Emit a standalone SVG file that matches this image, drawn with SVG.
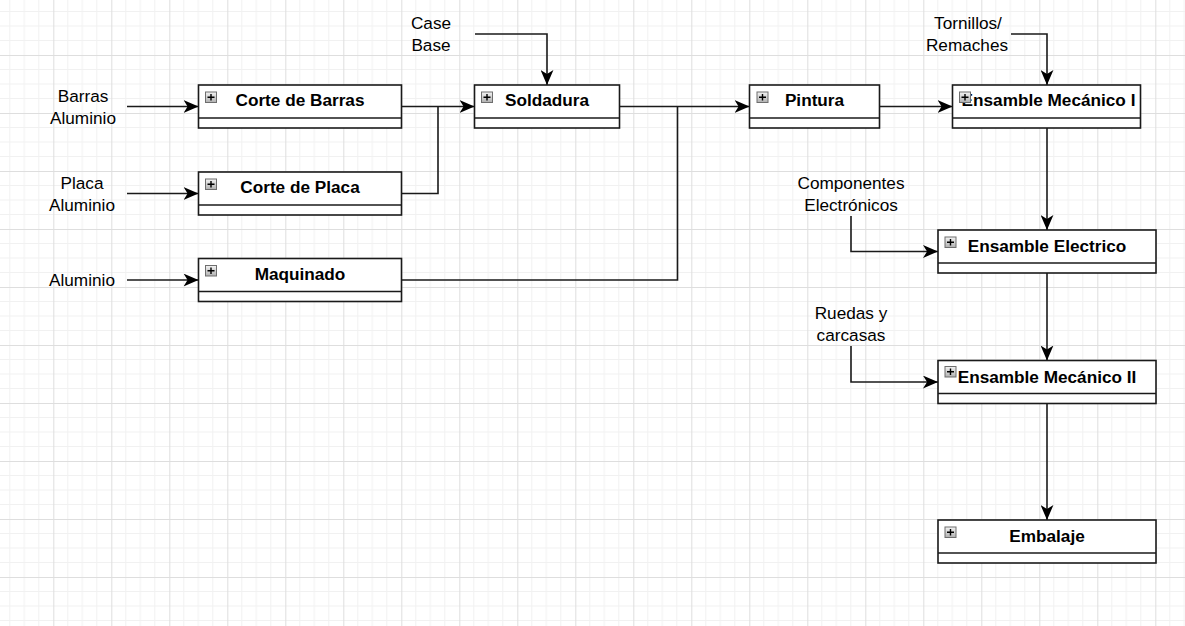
<svg xmlns="http://www.w3.org/2000/svg" width="1185" height="626" viewBox="0 0 1185 626">
<style>
.box{fill:#ffffff;stroke:#1a1a1a;stroke-width:1.6}
.div{stroke:#1a1a1a;stroke-width:1.6;fill:none}
.ttl{font-family:"Liberation Sans",Arial,sans-serif;font-size:17.2px;font-weight:bold;fill:#000;text-anchor:middle}
.lbl{font-family:"Liberation Sans",Arial,sans-serif;font-size:17.2px;fill:#000;text-anchor:middle}
.edge{fill:none;stroke:#1a1a1a;stroke-width:1.6}
.arr{marker-end:url(#ah)}
.ic{fill:url(#ig);stroke:#6e6e6e;stroke-width:1}
.pl{stroke:#000;stroke-width:1.4}
</style>
<defs>
<pattern id="grid" patternUnits="userSpaceOnUse" x="-4.7" y="-3" width="58" height="58">
<path d="M14.5 0V58M29 0V58M43.5 0V58M0 14.5H58M0 29H58M0 43.5H58" stroke="#f1f1f1" stroke-width="1" fill="none"/>
<path d="M0.5 0V58M0 0.5H58" stroke="#dedede" stroke-width="1" fill="none"/>
</pattern>
<linearGradient id="ig" x1="0" y1="0" x2="0" y2="1">
<stop offset="0" stop-color="#f4f4f4"/>
<stop offset="1" stop-color="#b0b0b0"/>
</linearGradient>
<marker id="ah" markerUnits="userSpaceOnUse" markerWidth="15" markerHeight="13" viewBox="0 0 14 12" refX="14" refY="6" orient="auto">
<path d="M0,0 L14,6 L0,12 L3.8,6 Z" fill="#000"/>
</marker>
</defs>
<rect width="1185" height="626" fill="#ffffff"/>
<rect width="1185" height="626" fill="url(#grid)"/>

<g id="connectors">
<path class="edge arr" d="M127,106.5H198.5"/>
<path class="edge arr" d="M127,193.5H198.5"/>
<path class="edge arr" d="M127,280H198.5"/>
<path class="edge arr" d="M401.5,106.5H474.5"/>
<path class="edge" d="M401.5,193.5H438V106.5"/>
<path class="edge arr" d="M475,34H547V85"/>
<path class="edge arr" d="M619.5,106.5H749.5"/>
<path class="edge" d="M401.5,280H677.5V106.5"/>
<path class="edge arr" d="M879.5,106.5H952.5"/>
<path class="edge arr" d="M1011,34H1047V85"/>
<path class="edge arr" d="M1047,128V230"/>
<path class="edge arr" d="M851,216V251.5H938"/>
<path class="edge arr" d="M1047,273V360.5"/>
<path class="edge arr" d="M851,346V382H938"/>
<path class="edge arr" d="M1047,403.5V520"/>
</g>

<g id="labels">
<text class="lbl" x="83" y="102">Barras</text>
<text class="lbl" x="83" y="124">Aluminio</text>
<text class="lbl" x="82" y="189">Placa</text>
<text class="lbl" x="82" y="211">Aluminio</text>
<text class="lbl" x="82" y="286">Aluminio</text>
<text class="lbl" x="431" y="28.5">Case</text>
<text class="lbl" x="431" y="50.5">Base</text>
<text class="lbl" x="968" y="28.5">Tornillos/</text>
<text class="lbl" x="967" y="50.5">Remaches</text>
<text class="lbl" x="851" y="189">Componentes</text>
<text class="lbl" x="851" y="211">Electrónicos</text>
<text class="lbl" x="851" y="319">Ruedas y</text>
<text class="lbl" x="851" y="341">carcasas</text>
</g>

<g id="corte-barras">
<rect class="box" x="198.5" y="85" width="203" height="43"/>
<path class="div" d="M198.5,118H401.5"/>
<text class="ttl" x="300" y="106">Corte de Barras</text>
<rect class="ic" x="205.5" y="92" width="11" height="10.5"/>
<path class="pl" d="M207.5,97.3H214.5M211,94V100.6"/>
</g>

<g id="corte-placa">
<rect class="box" x="198.5" y="172" width="203" height="43"/>
<path class="div" d="M198.5,205H401.5"/>
<text class="ttl" x="300" y="193">Corte de Placa</text>
<rect class="ic" x="205.5" y="179" width="11" height="10.5"/>
<path class="pl" d="M207.5,184.3H214.5M211,181V187.6"/>
</g>

<g id="maquinado">
<rect class="box" x="198.5" y="258.5" width="203" height="43"/>
<path class="div" d="M198.5,291.5H401.5"/>
<text class="ttl" x="300" y="280">Maquinado</text>
<rect class="ic" x="205.5" y="265.5" width="11" height="10.5"/>
<path class="pl" d="M207.5,270.8H214.5M211,267.5V274.1"/>
</g>

<g id="soldadura">
<rect class="box" x="474.5" y="85" width="145" height="43"/>
<path class="div" d="M474.5,118H619.5"/>
<text class="ttl" x="547" y="106">Soldadura</text>
<rect class="ic" x="481.5" y="92" width="11" height="10.5"/>
<path class="pl" d="M483.5,97.3H490.5M487,94V100.6"/>
</g>

<g id="pintura">
<rect class="box" x="749.5" y="85" width="130" height="43"/>
<path class="div" d="M749.5,118H879.5"/>
<text class="ttl" x="814.5" y="106">Pintura</text>
<rect class="ic" x="757" y="92" width="11" height="10.5"/>
<path class="pl" d="M759,97.3H766M762.5,94V100.6"/>
</g>

<g id="ensamble-mecanico-1">
<rect class="box" x="952.5" y="85" width="188" height="43"/>
<path class="div" d="M952.5,118H1140.5"/>
<text class="ttl" x="1048.5" y="106">Ensamble Mecánico I</text>
<rect class="ic" x="959.5" y="92" width="11" height="10.5"/>
<path class="pl" d="M961.5,97.3H968.5M965,94V100.6"/>
</g>

<g id="ensamble-electrico">
<rect class="box" x="938" y="230" width="218" height="43"/>
<path class="div" d="M938,263H1156"/>
<text class="ttl" x="1047" y="252">Ensamble Electrico</text>
<rect class="ic" x="945" y="237" width="11" height="10.5"/>
<path class="pl" d="M947,242.3H954M950.5,239V245.6"/>
</g>

<g id="ensamble-mecanico-2">
<rect class="box" x="938" y="360.5" width="218" height="43"/>
<path class="div" d="M938,393.5H1156"/>
<text class="ttl" x="1047" y="383">Ensamble Mecánico II</text>
<rect class="ic" x="945" y="366.5" width="11" height="10.5"/>
<path class="pl" d="M947,371.8H954M950.5,368.5V375.1"/>
</g>

<g id="embalaje">
<rect class="box" x="938" y="520" width="218" height="43"/>
<path class="div" d="M938,553H1156"/>
<text class="ttl" x="1047" y="542">Embalaje</text>
<rect class="ic" x="945" y="527" width="11" height="10.5"/>
<path class="pl" d="M947,532.3H954M950.5,529V535.6"/>
</g>
</svg>
